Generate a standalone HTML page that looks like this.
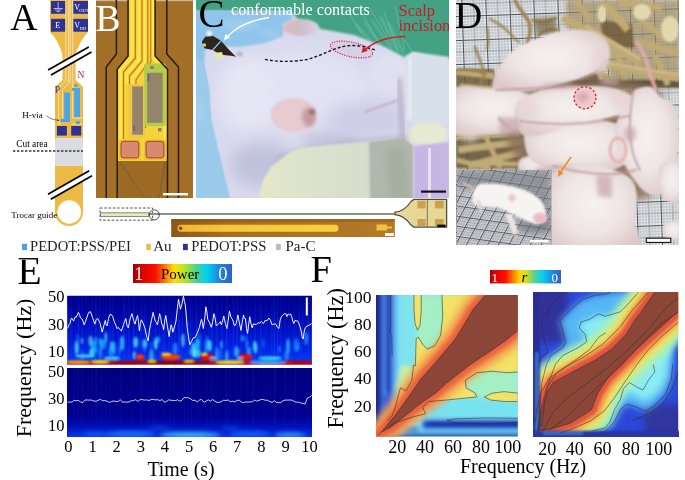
<!DOCTYPE html>
<html><head><meta charset="utf-8"><title>Figure</title>
<style>
html,body{margin:0;padding:0;background:#fff;}
body{width:685px;height:480px;overflow:hidden;position:relative;}
svg{position:absolute;left:0;top:0;}
text{font-family:"Liberation Serif","Times New Roman",serif;}
</style></head>
<body>
<svg width="685" height="480" viewBox="0 0 685 480">
<defs>
  <filter id="b1" x="-20%" y="-20%" width="140%" height="140%"><feGaussianBlur stdDeviation="1"/></filter>
  <filter id="b2" x="-30%" y="-30%" width="160%" height="160%"><feGaussianBlur stdDeviation="2"/></filter>
  <filter id="b3" x="-30%" y="-30%" width="160%" height="160%"><feGaussianBlur stdDeviation="3.5"/></filter>
  <filter id="b5" x="-40%" y="-40%" width="180%" height="180%"><feGaussianBlur stdDeviation="5"/></filter>
  <filter id="b8" x="-50%" y="-50%" width="200%" height="200%"><feGaussianBlur stdDeviation="8"/></filter>
  <clipPath id="clipB"><rect x="96" y="0" width="97" height="198"/></clipPath>
  <clipPath id="clipC"><rect x="196" y="0" width="253" height="198"/></clipPath>
  <clipPath id="clipD"><rect x="456" y="0" width="223" height="245"/></clipPath>
  <clipPath id="clipDi"><rect x="457" y="170" width="94" height="75"/></clipPath>
  <clipPath id="clipE1"><rect x="67.2" y="295.7" width="244.7" height="68.9"/></clipPath>
  <clipPath id="clipE2"><rect x="67" y="368" width="245" height="69"/></clipPath>
  <clipPath id="clipF1"><rect x="376" y="294.9" width="141.8" height="141.7"/></clipPath>
  <clipPath id="clipF2"><rect x="533" y="292.1" width="145.2" height="144.7"/></clipPath>
  <pattern id="mesh" width="24" height="24" patternUnits="userSpaceOnUse" patternTransform="rotate(-2) translate(5,8)">
    <rect width="24" height="24" fill="#f0f2f4"/>
    <path d="M0,3 H24 M0,6 H24 M0,9 H24 M0,15 H24 M0,18 H24 M0,21 H24 M3,0 V24 M6,0 V24 M9,0 V24 M15,0 V24 M18,0 V24 M21,0 V24" stroke="#a4aab2" stroke-width="0.75"/>
    <path d="M0,12 H24 M12,0 V24" stroke="#7c848c" stroke-width="0.9"/>
    <path d="M0,0.5 H24 M0.5,0 V24" stroke="#4a525a" stroke-width="1.1"/>
  </pattern>
  <radialGradient id="mg" cx="0.5" cy="0.45" r="0.6">
    <stop offset="0" stop-color="#f6f1f0"/><stop offset="0.55" stop-color="#eee5e4"/><stop offset="1" stop-color="#dcc9c9"/>
  </radialGradient>
  <pattern id="meshi" width="10" height="10" patternUnits="userSpaceOnUse" patternTransform="rotate(8) skewX(-20)">
    <rect width="10" height="10" fill="#d4d6da"/>
    <path d="M0,2.5 H10 M0,5 H10 M0,7.5 H10 M2.5,0 V10 M5,0 V10 M7.5,0 V10" stroke="#8e9298" stroke-width="0.5"/>
    <path d="M0,0.5 H10 M0.5,0 V10" stroke="#50545a" stroke-width="0.9"/>
  </pattern>
  <linearGradient id="gE1" x1="0" y1="0" x2="0" y2="1">
    <stop offset="0" stop-color="#00008c"/><stop offset="0.3" stop-color="#0006ac"/><stop offset="0.55" stop-color="#0012c8"/><stop offset="0.75" stop-color="#0020de"/><stop offset="0.9" stop-color="#0430f0"/><stop offset="1" stop-color="#0840f8"/>
  </linearGradient>
  <linearGradient id="gE2" x1="0" y1="0" x2="0" y2="1">
    <stop offset="0" stop-color="#00007e"/><stop offset="0.7" stop-color="#000090"/><stop offset="0.85" stop-color="#0010b8"/><stop offset="1" stop-color="#0838f0"/>
  </linearGradient>
  <linearGradient id="cbE" x1="0" y1="0" x2="1" y2="0">
    <stop offset="0" stop-color="#a00000"/><stop offset="0.06" stop-color="#d00000"/><stop offset="0.23" stop-color="#ff1000"/><stop offset="0.33" stop-color="#ff8000"/><stop offset="0.42" stop-color="#ffe000"/><stop offset="0.54" stop-color="#a8e030"/><stop offset="0.65" stop-color="#40d0a0"/><stop offset="0.75" stop-color="#00d0f0"/><stop offset="0.86" stop-color="#2088e0"/><stop offset="1" stop-color="#3060c0"/>
  </linearGradient>
  <linearGradient id="cbF" x1="0" y1="0" x2="1" y2="0">
    <stop offset="0" stop-color="#b00000"/><stop offset="0.08" stop-color="#e00000"/><stop offset="0.22" stop-color="#ff1000"/><stop offset="0.33" stop-color="#ff8000"/><stop offset="0.42" stop-color="#ffd800"/><stop offset="0.52" stop-color="#c8e020"/><stop offset="0.62" stop-color="#60d090"/><stop offset="0.74" stop-color="#00d0f0"/><stop offset="0.86" stop-color="#2090e0"/><stop offset="1" stop-color="#3060c0"/>
  </linearGradient>
  <linearGradient id="gEfade" x1="0" y1="0" x2="0" y2="1"><stop offset="0" stop-color="#000090" stop-opacity="0.75"/><stop offset="1" stop-color="#000090" stop-opacity="0"/></linearGradient>
  <linearGradient id="gstrip" x1="0" y1="0" x2="1" y2="0"><stop offset="0" stop-color="#8a5818"/><stop offset="0.25" stop-color="#a66e22"/><stop offset="1" stop-color="#b47a26"/></linearGradient>
  <linearGradient id="gbar" x1="0" y1="0" x2="1" y2="0"><stop offset="0" stop-color="#f0b432"/><stop offset="0.3" stop-color="#f6c83a"/><stop offset="1" stop-color="#f8d040"/></linearGradient>
  <linearGradient id="ggauze" x1="0" y1="0" x2="1" y2="0"><stop offset="0" stop-color="#e4e8c8"/><stop offset="0.35" stop-color="#dce2cc"/><stop offset="1" stop-color="#d0dad0"/></linearGradient>
  <linearGradient id="gear" x1="0" y1="0" x2="1" y2="0"><stop offset="0" stop-color="#d8c0c0"/><stop offset="0.45" stop-color="#d0bcc4"/><stop offset="1" stop-color="#d6d2e4"/></linearGradient>
</defs>

<!-- ================= PANEL A ================= -->
<g id="panelA">
  <text x="10.2" y="29.7" font-size="37.5">A</text>
  <!-- chip body -->
  <path d="M50,0 H88 V32 C84,36 80,42 77,50 C76,53 75.6,55 75.6,58 V80 L83,86.7 V212 A14,14 0 0 1 55,212 V86.7 L62.5,80 V58 C62.5,55 62,53 61,50 C58,42 54,36 50,32 Z" fill="#eeba46"/>
  <!-- cut area -->
  <rect x="55" y="138" width="28" height="28" fill="#dcdde0"/>
  <!-- trocar hole -->
  <circle cx="69.3" cy="212" r="11.8" fill="#fff"/>
  <!-- pads -->
  <rect x="51" y="1" width="14.4" height="12.8" fill="#2e3292"/>
  <rect x="73.2" y="1" width="14.8" height="12.8" fill="#2e3292"/>
  <rect x="51" y="18.8" width="14.4" height="12.9" fill="#2e3292"/>
  <rect x="73.2" y="18.8" width="14.8" height="12.9" fill="#2e3292"/>
  <!-- ground symbol -->
  <g stroke="#e8e8f4" stroke-width="0.7" fill="none">
    <line x1="58.2" y1="2" x2="58.2" y2="8.5"/>
    <line x1="53.5" y1="8.5" x2="62.9" y2="8.5"/>
    <line x1="55" y1="10" x2="61.4" y2="10"/>
    <line x1="56.6" y1="11.5" x2="59.8" y2="11.5"/>
  </g>
  <text x="74.3" y="9.8" font-size="8" fill="#fff">V</text>
  <text x="79.2" y="11.6" font-size="4.6" fill="#fff">OUT</text>
  <text x="55.3" y="28.3" font-size="8" fill="#fff">E</text>
  <text x="74.3" y="27.6" font-size="8" fill="#fff">V</text>
  <text x="79.6" y="29.6" font-size="4.6" fill="#fff">DD</text>
  <!-- traces -->
  <g stroke="#f3e2c0" stroke-width="0.9" fill="none">
    <path d="M65.8,0 V81 L58.75,87.5 V124 H61"/>
    <path d="M68.6,0 V83 L62.5,90 V119"/>
    <path d="M70.2,0 V84"/>
    <path d="M72.7,0 V118 M72.7,118 H82"/>
    <path d="M71.5,124 H82"/>
  </g>
  <!-- PEDOT:PSS/PEI strips -->
  <g fill="#4aa5e6">
    <rect x="64.2" y="92.5" width="5.8" height="29.5"/>
    <rect x="60.6" y="118.8" width="9.4" height="3.2"/>
    <rect x="74.2" y="88" width="5.8" height="29"/>
    <rect x="72" y="88" width="8" height="2.8"/>
    <rect x="74.6" y="84" width="2.9" height="2.7"/>
    <rect x="76" y="121" width="3.7" height="3"/>
  </g>
  <rect x="56.9" y="126" width="10" height="9.6" fill="#2e3292"/>
  <rect x="71.2" y="126" width="10" height="9.6" fill="#2e3292"/>
  <text x="77.6" y="78.2" font-size="9.5" fill="#c0272d">N</text>
  <text x="54.8" y="92.6" font-size="9.5" fill="#2e3292">P</text>
  <!-- break marks -->
  <polygon points="48.1,70 88.75,46.9 91.5,51.9 51,75" fill="#fff"/>
  <g stroke="#000" stroke-width="1.7" stroke-linecap="butt">
    <line x1="48.1" y1="70" x2="88.75" y2="46.9"/>
    <line x1="51" y1="75" x2="91.5" y2="51.9"/>
  </g>
  <polygon points="48,194.2 89.2,170.8 92,175.8 50.8,199.2" fill="#fff"/>
  <g stroke="#000" stroke-width="1.7">
    <line x1="48" y1="194.2" x2="89.2" y2="170.8"/>
    <line x1="50.8" y1="199.2" x2="92" y2="175.8"/>
  </g>
  <text x="22.2" y="117.6" font-size="9">H-via</text>
  <path d="M46.5,115.5 Q50,119.5 58,120.2" stroke="#222" stroke-width="0.6" fill="none"/>
  <circle cx="58.3" cy="120.2" r="0.8" fill="#222"/>
  <text x="16.2" y="146.8" font-size="9.4">Cut area</text>
  <line x1="13" y1="151" x2="83" y2="151" stroke="#333" stroke-width="1.3" stroke-dasharray="2.4,1.6"/>
  <text x="11.3" y="218" font-size="9">Trocar guide</text>
</g>

<!-- ================= PANEL B ================= -->
<g id="panelB" clip-path="url(#clipB)">
  <rect x="96" y="0" width="97" height="198" fill="#a3702a"/>
  <rect x="96" y="0" width="97" height="1.2" fill="#c8b89a"/>
  <!-- probe body -->
  <path d="M128.1,0 V56 L117.2,69.2 V161 H167.5 V69.2 L155.1,56 V0 Z" fill="#f4d43c"/>
  <!-- darker substrate below probe -->
  <rect x="117.2" y="161" width="50.3" height="37" fill="#9c6a22"/>
  <!-- traces separators -->
  <g fill="none" stroke="#c4761a" stroke-width="1.2">
    <path d="M135.4,0 V58 L123.5,72 V139"/>
    <path d="M142,0 V61 L129.5,76 V86"/>
    <path d="M147.8,0 V63 L136,80 V86"/>
    <path d="M150.8,0 V62 L145.5,69 V128"/>
  </g>
  <g fill="none" stroke="#fae654" stroke-width="2.6">
    <path d="M131.9,0 V56.5 L120.6,70 V158"/>
    <path d="M138.8,0 V59.5 L126.6,74 V84"/>
    <path d="M144.9,0 V62 L132.5,78 V84"/>
    <path d="M153,0 V58 L165,70 V158"/>
  </g>
  <!-- pale inner area -->
  <rect x="128" y="84" width="17" height="54" fill="#f0c848"/>
  <!-- gray sites -->
  <rect x="132.2" y="86.4" width="10.8" height="48.3" fill="#95846c"/>
  <rect x="144.2" y="63.4" width="21.6" height="62.6" rx="1.5" fill="#b5cc48"/>
  <rect x="147.2" y="72.8" width="15.4" height="50" fill="#95846c"/>
  <rect x="150" y="66" width="4" height="3" fill="#9a7c78"/>
  <rect x="147.7" y="74" width="1.6" height="7" fill="#7850a0"/>
  <rect x="133.5" y="125" width="1.4" height="6" fill="#7850a0"/>
  <rect x="158" y="128" width="3.5" height="3.5" fill="#9a7c60"/>
  <!-- pads -->
  <rect x="118.7" y="139.6" width="22.3" height="20.7" rx="2" fill="#f0c030"/>
  <rect x="144" y="139.6" width="22" height="20.7" rx="2" fill="#f0c030"/>
  <rect x="121" y="141.3" width="17.8" height="16.6" rx="2.5" fill="#d88a70" stroke="#9a3e26" stroke-width="0.9"/>
  <rect x="146.1" y="141.3" width="17.8" height="16.6" rx="2.5" fill="#d88a70" stroke="#9a3e26" stroke-width="0.9"/>
  <!-- outline lines -->
  <g fill="none" stroke="#2c1a06" stroke-width="1.5">
    <path d="M116.4,0 V54 L106.2,67 V198"/>
    <path d="M128.1,0 V56 L117.2,69.2 V198"/>
    <path d="M155.1,0 V56 L167.5,69.2 V198"/>
    <path d="M166.8,0 V54 L178.5,67 V198"/>
  </g>
  <!-- leader lines -->
  <g stroke="#555" stroke-width="0.6">
    <line x1="120" y1="162" x2="153" y2="210"/>
    <line x1="165" y1="162" x2="157" y2="210"/>
  </g>
  <rect x="163" y="193" width="25" height="2.4" fill="#fff"/>
  <text x="95.6" y="31" font-size="37.5" fill="#fff">B</text>
</g>


<!-- ================= PANEL C ================= -->
<g id="panelC" clip-path="url(#clipC)">
  <rect x="196" y="0" width="253" height="198" fill="#d9d9ee"/>
  <!-- mouse body shading -->
  <ellipse cx="300" cy="90" rx="70" ry="40" fill="#e2e2f4" filter="url(#b8)"/>
  <ellipse cx="262" cy="165" rx="32" ry="22" fill="#c0c2dc" filter="url(#b8)"/>
  <ellipse cx="365" cy="120" rx="40" ry="18" fill="#cdcde6" filter="url(#b8)"/>
  <ellipse cx="390" cy="75" rx="22" ry="22" fill="#e0e0f2" filter="url(#b5)"/>
  <ellipse cx="330" cy="140" rx="30" ry="8" fill="#c6c6e0" filter="url(#b5)"/>
  <ellipse cx="245" cy="95" rx="28" ry="38" fill="#e8e8f6" opacity="0.8" filter="url(#b8)"/>
  <path d="M275,160 C290,150 320,145 350,142 C375,140 395,137 410,136" fill="none" stroke="#a8a0b8" stroke-width="3" opacity="0.6" filter="url(#b2)"/>
  <!-- green background top -->
  <path d="M190,-5 H455 V60 L430,57 L413,52 L406,58 L383,46 L354,35 L321,29 L298,19 L290,11 L196,11 Z" fill="#43a283" filter="url(#b1)"/>
  <g stroke="#a0dccc" stroke-width="1.2" opacity="0.55" fill="none" filter="url(#b1)">
    <path d="M372,20 L392,50"/><path d="M380,16 L398,52"/><path d="M388,22 L404,54"/><path d="M364,22 L380,44"/><path d="M356,24 L370,40"/>
  </g>
  <g stroke="#82ccb4" stroke-width="0.8" opacity="0.6" fill="none">
    <path d="M360,10 L380,44"/><path d="M370,8 L392,46"/><path d="M384,12 L398,50"/><path d="M395,6 L405,50"/><path d="M350,14 L364,38"/><path d="M405,40 L412,52"/>
  </g>
  <!-- drape light blue -->
  <path d="M190,11 L290,11 L293,19 L283,24 L283,36 L265,43 L240,47 L215,46 L205,50 L204,65 L209,90 L211,120 L218,150 L230,200 L190,200 Z" fill="#8fc5ec" filter="url(#b1)"/>
  <path d="M196,60 L204,60 L209,90 L211,120 L218,150 L230,200 L196,200 Z" fill="#9ccaea" opacity="0.9"/>
  <g fill="#b4daf2" opacity="0.35" filter="url(#b2)">
    <ellipse cx="240" cy="25" rx="20" ry="6"/><ellipse cx="270" cy="34" rx="10" ry="4"/><ellipse cx="200" cy="110" rx="4" ry="14"/>
  </g>
  <!-- upper ear -->
  <ellipse cx="301" cy="27.5" rx="18" ry="8.5" fill="url(#gear)" filter="url(#b1)"/>
  <!-- gauze -->
  <path d="M258,200 L263,180 L271,167 L290,152 L300,148 L340,144 L370,141.7 L404,137 L413,146 L413,200 Z" fill="url(#ggauze)" filter="url(#b1)"/>
  <path d="M369,142 L404,137 L413,146 L413,200 L370,200 Z" fill="#b0b8ae" filter="url(#b1)"/>
  <path d="M385,150 L405,145 L410,200 L390,200 Z" fill="#a0a898" opacity="0.6" filter="url(#b3)"/>
  <path d="M399,78 C400,95 401,115 403,140" stroke="#b6a8bc" stroke-width="6" fill="none" opacity="0.7" filter="url(#b2)"/>
  <path d="M365,112 C375,108 388,104 398,100" stroke="#b8a0b8" stroke-width="2" fill="none" opacity="0.7" filter="url(#b1)"/>
  <!-- tube -->
  <path d="M405,56 L413.5,52 L449,57 L449,124 L412,124 L406,120 Z" fill="#d8e0ec" filter="url(#b1)"/>
  <rect x="408" y="57" width="4" height="62" fill="#eef2f6" opacity="0.6" filter="url(#b1)"/>
  <ellipse cx="428" cy="134" rx="20" ry="12" fill="#e6ead0" filter="url(#b2)"/>
  <path d="M414,146 L449,142 L449,200 L414,200 Z" fill="#c6b6e4" filter="url(#b1)"/>
  <rect x="428" y="148" width="3" height="50" fill="#ece6f6" opacity="0.9"/>
  <!-- ear -->
  <ellipse cx="293.4" cy="115" rx="23" ry="17" fill="#e6ccd0" filter="url(#b1)"/>
  <ellipse cx="309" cy="117" rx="7" ry="10" fill="#c29aa2" filter="url(#b2)"/>
  <ellipse cx="312" cy="112" rx="3" ry="3" fill="#a07880" filter="url(#b1)"/>
  <!-- contact -->
  <path d="M201.8,41.7 L205.2,36.7 L212.7,35.8 L221,40.8 L228.5,49.2 L236,56.7 L231,55.8 L223.5,55 L216.8,52.5 L212.7,50 L204.3,48.3 Z" fill="#2c261c"/>
  <ellipse cx="209.3" cy="33.3" rx="2.8" ry="2.6" fill="#f4f4f0" filter="url(#b1)"/>
  <path d="M214.3,53 L222,52 L223.5,58.5 L215.5,59.2 Z" fill="#e6e4b0"/>
  <ellipse cx="204.4" cy="45" rx="1.8" ry="1.8" fill="#d8c878"/>
  <line x1="221" y1="40.8" x2="212.7" y2="50" stroke="#9ec4e4" stroke-width="1.2"/>
  <ellipse cx="239.5" cy="54" rx="3.5" ry="2.5" fill="#b8b8c4" filter="url(#b1)"/>
  <!-- incision -->
  <ellipse cx="351.5" cy="49.5" rx="21.5" ry="7.3" transform="rotate(12 351.5 49.5)" fill="#d4cce4" fill-opacity="0.8" stroke="#e0202a" stroke-width="1.1" stroke-dasharray="1.2,1.2"/>
  <!-- dashed line -->
  <path d="M265,59.4 C278,62 292,62 307,59.5 C318,57 330,50 341,47 C350,44.5 362,45 375,50" fill="none" stroke="#1a1a1a" stroke-width="1.4" stroke-dasharray="3,2"/>
  <!-- red arrow -->
  <path d="M405.5,36.5 C392,36.5 376,40 364,50.5" fill="none" stroke="#d0202a" stroke-width="1.4"/>
  <path d="M361.5,53 L363,46.5 L368,50.5 Z" fill="#d0202a"/>
  <!-- white arrow -->
  <path d="M269,17.5 C252,20 236,27 226.5,37.5" fill="none" stroke="#fff" stroke-width="1.3"/>
  <path d="M224,40.5 L225.3,33.8 L230,37.5 Z" fill="#fff"/>
  <text x="231" y="15.3" font-size="16.2" fill="#fff">conformable contacts</text>
  <text x="398.6" y="16.3" font-size="16.4" fill="#cc1a2c">Scalp</text>
  <text x="398.4" y="30.6" font-size="16.4" fill="#cc1a2c">incision</text>
  <text x="198.6" y="26.7" font-size="39" fill="#000">C</text>
  <rect x="421" y="190.5" width="25" height="2.2" fill="#111"/>
</g>


<!-- ================= PANEL D ================= -->
<g id="panelD" clip-path="url(#clipD)">
  <rect x="456" y="0" width="223" height="245" fill="url(#mesh)"/>
  <!-- shreds base -->
  <path d="M566,0 H680 V82 L640,84 L612,80 L606,60 L596,44 L578,32 L566,28 Z" fill="#a08a5a" opacity="0.65" filter="url(#b2)"/>
  <path d="M456,128 L531,128 L531,170 L456,170 Z" fill="#9c8452" opacity="0.55" filter="url(#b2)"/>
  <!-- shreds -->
  <g filter="url(#b1)">
    <path d="M600,20 L632,24 L634,48 L604,46 Z" fill="#6a5636" opacity="0.8"/>
    <path d="M566,60 L600,66 L598,84 L566,82 Z" fill="#5e4c30" opacity="0.8"/>
    <path d="M456,69 L494,69 L496,91 L456,91 Z" fill="#6a5a3a" opacity="0.85"/>
    <path d="M546,80 L568,80 L568,91 L546,91 Z" fill="#4a3a26"/>
    <path d="M566,80 L680,80 L680,88 L566,88 Z" fill="#5a4a30" opacity="0.9"/>
    <path d="M596,110 L641,112 L641,130 L600,130 Z" fill="#5a4434"/>
    <path d="M456,140 L531,136 L531,168 L456,168 Z" fill="#5a4a30" opacity="0.7"/>
  </g>
  <g fill="none" stroke="#c0aa74" stroke-linecap="butt" filter="url(#b1)">
    <path d="M562,18 L600,36" stroke-width="7"/>
    <path d="M585,28 C600,38 620,50 640,62" stroke-width="9"/>
    <path d="M604,2 L628,30" stroke-width="8"/>
    <path d="M618,2 L662,8" stroke-width="7"/>
    <path d="M640,42 L680,54" stroke-width="7"/>
    <path d="M600,64 L680,78" stroke-width="8"/>
    <path d="M570,50 L610,80" stroke-width="7"/>
    <path d="M655,55 L668,85" stroke-width="6"/>
    <path d="M615,45 L625,80" stroke-width="6"/>
    <path d="M575,0 L590,20" stroke-width="6"/>
    <path d="M640,20 L668,40" stroke-width="6"/>
    <path d="M590,48 L612,56" stroke-width="5"/>
    <path d="M456,134 L531,131" stroke-width="8"/>
    <path d="M458,150 L526,141" stroke-width="7"/>
    <path d="M468,166 L522,152" stroke-width="7"/>
    <path d="M482,128 L500,168" stroke-width="5"/>
    <path d="M456,160 L490,168" stroke-width="5"/>
    <path d="M456,72 L494,76" stroke-width="6"/>
    <path d="M460,86 L496,89" stroke-width="5"/>
    <path d="M558,228 L596,236" stroke-width="7"/>
    <path d="M560,242 L596,226" stroke-width="6"/>
    <path d="M472,163 L522,164" stroke-width="5"/>
  </g>
  <g fill="none" stroke="#d8c898" stroke-width="2" opacity="0.7" filter="url(#b1)">
    <path d="M586,26 C600,35 620,47 640,59"/>
    <path d="M600,62 L680,75"/>
    <path d="M456,132 L531,129"/>
  </g>
  <g fill="#e2d8b0" filter="url(#b1)">
    <ellipse cx="642" cy="12" rx="9" ry="8"/>
    <ellipse cx="670" cy="29" rx="9" ry="13"/>
    <ellipse cx="602" cy="14" rx="4.5" ry="9"/>
  </g>
  <!-- thin shreds top-left -->
  <g fill="none" stroke="#97804e" stroke-linecap="round" filter="url(#b1)">
    <path d="M515,0 C518,8 524,14 528,20 C532,28 530,36 527,44" stroke-width="3.5"/>
    <path d="M490,19 C500,24 508,30 514,38 L519,42" stroke-width="2.2"/>
    <path d="M475,47 C478,55 480,60 482,66 C484,72 486,76 480,84" stroke-width="2.5"/>
    <path d="M487,28 C489,36 489,42 487,49" stroke-width="2.2"/>
    <path d="M457,70 C468,69 478,70 486,74" stroke-width="2.5"/>
    <path d="M533,20 C540,24 548,22 556,18" stroke-width="3"/>
    <path d="M538,36 C544,30 550,28 558,30" stroke-width="2.5"/>
  </g>
  <path d="M534,18 L556,17 L557,34 L536,35 Z" fill="#7c6640" opacity="0.7" filter="url(#b2)"/>
  <path d="M496,88 L560,84 L610,78 L640,84 L662,92 L664,190 L640,200 L552,200 L522,170 L505,136 L496,110 Z" fill="#8a7058" opacity="0.85" filter="url(#b3)"/>
  <!-- mice -->
  <g filter="url(#b1)">
    <path d="M494.5,89.7 C489.4,86.5 494.0,78.2 497.0,71.8 C500.0,65.4 505.6,56.8 512.4,51.3 C519.2,45.8 529.5,41.9 538.0,38.5 C546.5,35.1 555.2,32.1 563.7,30.8 C572.2,29.5 582.5,29.5 589.3,30.8 C596.1,32.1 601.3,35.1 604.7,38.5 C608.1,41.9 609.8,46.6 609.8,51.3 C609.8,56.0 609.0,62.4 604.7,66.7 C600.4,71.0 591.9,73.9 584.2,76.9 C576.5,79.9 568.0,82.2 558.6,84.6 C549.2,87.0 538.5,90.4 527.8,91.3 C517.1,92.2 499.6,93.0 494.5,89.7 Z" fill="url(#mg)"/>
    <path d="M452.0,89.7 C457.8,82.6 475.9,87.9 486.8,88.2 C497.7,88.5 509.4,89.8 517.5,91.3 C525.6,92.8 531.6,94.7 535.5,97.4 C539.4,100.1 541.0,103.4 540.6,107.7 C540.2,112.0 537.6,119.2 532.9,123.0 C528.2,126.8 520.1,128.9 512.4,130.8 C504.7,132.7 496.9,134.4 486.8,134.4 C476.7,134.4 457.8,138.4 452.0,131.0 C446.2,123.5 446.2,96.8 452.0,89.7 Z" fill="url(#mg)"/>
    <path d="M522.0,158.0 C527.0,155.3 546.3,153.7 552.0,156.0 C557.7,158.3 561.0,169.3 556.0,172.0 C551.0,174.7 527.7,174.3 522.0,172.0 C516.3,169.7 517.0,160.7 522.0,158.0 Z" fill="url(#mg)"/>
    <path d="M527.8,128.2 C533.4,123.9 548.4,122.0 558.6,120.5 C568.9,119.0 579.9,118.6 589.3,119.0 C598.7,119.4 608.2,120.6 615.0,123.0 C621.8,125.4 627.3,129.0 630.3,133.3 C633.3,137.6 633.8,143.6 632.9,148.7 C632.0,153.8 629.9,160.2 625.2,164.1 C620.5,167.9 612.4,170.5 604.7,171.8 C597.0,173.1 587.5,172.2 579.0,171.8 C570.5,171.4 561.1,170.9 553.4,169.2 C545.7,167.5 537.6,165.3 532.9,161.5 C528.2,157.7 526.1,151.8 525.2,146.2 C524.4,140.6 522.2,132.5 527.8,128.2 Z" fill="url(#mg)"/>
    <path d="M517.5,102.6 C522.2,97.0 533.0,92.4 543.2,89.7 C553.5,87.0 567.9,86.6 579.0,86.2 C590.1,85.8 601.2,85.8 609.8,87.2 C618.3,88.7 626.2,92.3 630.3,94.9 C634.4,97.5 635.2,99.6 634.4,102.6 C633.5,105.6 630.2,110.1 625.2,112.8 C620.2,115.5 613.2,116.9 604.7,119.0 C596.2,121.1 584.1,123.0 573.9,125.6 C563.6,128.2 551.7,132.9 543.2,134.4 C534.7,135.9 527.4,136.3 522.7,134.4 C518.0,132.5 515.9,128.3 515.0,123.0 C514.1,117.7 512.8,108.1 517.5,102.6 Z" fill="url(#mg)"/>
    <path d="M635.5,89.7 C638.9,88.0 646.6,85.9 650.9,87.2 C655.2,88.5 657.7,94.8 661.1,97.4 C664.5,100.0 668.6,99.2 671.4,102.6 C674.2,106.0 676.9,109.5 678.0,118.0 C679.1,126.5 679.1,143.6 678.0,153.8 C676.9,164.1 674.2,172.7 671.4,179.5 C668.6,186.3 665.4,192.8 661.1,194.9 C656.8,197.0 650.8,195.7 645.7,192.3 C640.6,188.9 634.6,180.8 630.3,174.4 C626.0,168.0 622.6,160.7 620.1,153.8 C617.6,147.0 615.0,140.1 615.0,133.3 C615.0,126.5 617.6,118.8 620.1,112.8 C622.6,106.8 627.7,101.2 630.3,97.4 C632.9,93.6 632.1,91.4 635.5,89.7 Z" fill="url(#mg)"/>
    <path d="M552.0,166.0 C558.0,162.3 574.3,162.5 584.0,163.0 C593.7,163.5 602.3,166.5 610.0,169.0 C617.7,171.5 625.5,173.7 630.0,178.0 C634.5,182.3 636.2,188.0 637.0,195.0 C637.8,202.0 635.5,210.8 635.0,220.0 C634.5,229.2 647.8,245.0 634.0,250.0 C620.2,255.0 566.3,255.8 552.0,250.0 C537.7,244.2 548.7,225.8 548.0,215.0 C547.3,204.2 547.3,193.2 548.0,185.0 C548.7,176.8 546.0,169.7 552.0,166.0 Z" fill="url(#mg)"/>
    <path d="M660.0,166.0 C663.0,160.3 678.3,158.3 682.0,164.0 C685.7,169.7 685.0,194.3 682.0,200.0 C679.0,205.7 667.7,203.7 664.0,198.0 C660.3,192.3 657.0,171.7 660.0,166.0 Z" fill="url(#mg)"/>
    <path d="M664.0,224.0 C666.7,221.3 679.0,219.5 682.0,222.0 C685.0,224.5 684.7,236.3 682.0,239.0 C679.3,241.7 669.0,240.5 666.0,238.0 C663.0,235.5 661.3,226.7 664.0,224.0 Z" fill="url(#mg)"/>
  </g>
  <!-- shadows between mice -->
  <g fill="none" stroke="#b89496" stroke-linecap="round" opacity="0.8" filter="url(#b1)">
    <path d="M496,90 C515,89 535,89 548,87" stroke-width="2.2"/>
    <path d="M520,121 C540,124 560,125 585,123 C600,121 615,118 630,116" stroke-width="2.2"/>
    <path d="M553,166 C570,170 590,175 612,174 C622,173 630,172 636,170" stroke-width="2"/>
    <path d="M633,92 C631,105 629,120 630,135 C631,150 634,160 640,170" stroke-width="2"/>
    <path d="M499,118 C505,125 510,130 518,134" stroke-width="2"/>
    <path d="M606,60 C600,70 592,76 580,80" stroke-width="1.6"/>
  </g>
  <!-- crevice shading -->
  <g fill="#c8a8ae" opacity="0.75" filter="url(#b2)">
    <path d="M499,117 L518,118 L520,134 L500,136 Z"/>
    <path d="M596,175 L612,176 L612,198 L598,196 Z"/>
    <ellipse cx="560" cy="86" rx="18" ry="3"/>
    <ellipse cx="630" cy="134" rx="6" ry="8"/>
    <ellipse cx="545" cy="170" rx="12" ry="3"/>
    <ellipse cx="610" cy="82" rx="10" ry="3"/>
  </g>
  <g fill="#e8d4d8" opacity="0.8" filter="url(#b3)">
    <ellipse cx="530" cy="110" rx="10" ry="8"/>
    <ellipse cx="620" cy="100" rx="10" ry="8"/>
    <ellipse cx="600" cy="60" rx="8" ry="12"/>
    <ellipse cx="470" cy="138" rx="8" ry="4"/>
  </g>
  <!-- curled tail -->
  <ellipse cx="618" cy="150" rx="8" ry="12" fill="none" stroke="#e4b4b4" stroke-width="3" filter="url(#b1)"/>
  <!-- tail -->
  <path d="M637,42 C641,48 645,56 647,63 C649,70 652,80 656,90" fill="none" stroke="#e2aaac" stroke-width="3.5" stroke-linecap="round" filter="url(#b1)"/>
  <!-- red dashed circle -->
  <circle cx="585" cy="97.8" r="11" fill="#ecccd0" stroke="#d8202a" stroke-width="1.3" stroke-dasharray="2.4,1.9"/>
  <ellipse cx="583" cy="97" rx="6" ry="5" fill="#dca8ac" filter="url(#b2)"/>
  <!-- orange arrow -->
  <path d="M571,157 L560,173" stroke="#f08a1c" stroke-width="1.4"/>
  <path d="M558,177 L558.4,169.8 L563.4,173 Z" fill="#f08a1c"/>
  <!-- inset -->
  <rect x="456.8" y="170.1" width="94.4" height="75.3" fill="#2a2a2c"/>
  <g clip-path="url(#clipDi)">
    <rect x="457" y="170" width="94" height="75" fill="url(#meshi)"/>
    <path d="M457,170 H551 V232 C535,215 515,200 490,192 C475,189 465,188 457,188 Z" fill="#767a80" opacity="0.6" filter="url(#b3)"/>
    <path d="M514,221 L549,220 L549,234 L520,232 Z" fill="#6c7074" opacity="0.7" filter="url(#b3)"/>
    <path d="M479.7,184 C490,183 500,184 509,185.7 C520,188 526,190 531,193 C538,197 543,202 544,206 C546,210 546,214 545.7,220.5 C542,223 538,224 534.7,224 C527,221 520,218 514.5,215 C508,212 504,209 500,207.7 C492,207 484,207 477.8,206 C474,204 472,202 472.3,200.4 C472,193 475,186 479.7,184 Z" fill="#f6f3f3" filter="url(#b1)"/>
    <path d="M505,214 L512,214 L518,232 L514,236 Z" fill="#f0e4e4" filter="url(#b1)"/>
    <path d="M476,200 L480,212 L483,212 L480,200 Z" fill="#e8d4d6" filter="url(#b1)"/>
    <ellipse cx="540" cy="218" rx="7" ry="5.5" fill="#e8c0c4" filter="url(#b1)"/>
    <ellipse cx="512" cy="198" rx="3.5" ry="4" fill="#eccaca" filter="url(#b1)"/>
    <path d="M463,183 L474,189" stroke="#e6c0c4" stroke-width="2.5" filter="url(#b1)"/>
    <rect x="530" y="240" width="18.5" height="2.3" fill="#fff"/>
  </g>
  <!-- scale bar -->
  <rect x="646.3" y="238.2" width="24.5" height="4.2" fill="#fff" stroke="#111" stroke-width="1.1"/>
  <text x="454.8" y="28.4" font-size="38" fill="#000">D</text>
</g>

<!-- ================= PANEL E ================= -->
<g id="panelE">
  <text x="17.4" y="284" font-size="39.5">E</text>
  <rect x="133" y="264" width="99" height="19" fill="url(#cbE)"/>
  <text x="134.3" y="280" font-size="18.5" fill="#fff">1</text>
  <text x="161" y="279" font-size="15">Power</text>
  <text x="218.3" y="280" font-size="18.5" fill="#fff">0</text>
  <g clip-path="url(#clipE1)">
    <rect x="67" y="295" width="245" height="70" fill="url(#gE1)"/>
    <rect x="67.0" y="296" width="1.5" height="68" fill="#2050ff" opacity="0.29"/>
    <rect x="70.3" y="296" width="2.2" height="68" fill="#2050ff" opacity="0.20"/>
    <rect x="74.7" y="296" width="2.1" height="68" fill="#0c34e0" opacity="0.17"/>
    <rect x="77.7" y="296" width="1.7" height="68" fill="#1040f0" opacity="0.39"/>
    <rect x="81.6" y="296" width="1.4" height="68" fill="#1848ff" opacity="0.27"/>
    <rect x="85.2" y="296" width="2.1" height="68" fill="#1040f0" opacity="0.16"/>
    <rect x="88.4" y="296" width="1.2" height="68" fill="#2050ff" opacity="0.15"/>
    <rect x="91.1" y="296" width="1.7" height="68" fill="#1848ff" opacity="0.20"/>
    <rect x="95.1" y="296" width="1.6" height="68" fill="#2050ff" opacity="0.32"/>
    <rect x="99.0" y="296" width="1.5" height="68" fill="#1040f0" opacity="0.29"/>
    <rect x="102.9" y="296" width="1.3" height="68" fill="#0c34e0" opacity="0.20"/>
    <rect x="104.9" y="296" width="1.7" height="68" fill="#1040f0" opacity="0.17"/>
    <rect x="109.4" y="296" width="1.4" height="68" fill="#1040f0" opacity="0.41"/>
    <rect x="111.9" y="296" width="2.3" height="68" fill="#2050ff" opacity="0.15"/>
    <rect x="117.4" y="296" width="1.4" height="68" fill="#1848ff" opacity="0.16"/>
    <rect x="121.4" y="296" width="1.2" height="68" fill="#0c34e0" opacity="0.16"/>
    <rect x="123.3" y="296" width="1.5" height="68" fill="#1848ff" opacity="0.40"/>
    <rect x="126.0" y="296" width="1.0" height="68" fill="#2050ff" opacity="0.15"/>
    <rect x="128.0" y="296" width="1.7" height="68" fill="#1848ff" opacity="0.27"/>
    <rect x="132.9" y="296" width="2.0" height="68" fill="#2050ff" opacity="0.26"/>
    <rect x="135.8" y="296" width="1.5" height="68" fill="#0c34e0" opacity="0.20"/>
    <rect x="140.1" y="296" width="2.4" height="68" fill="#1040f0" opacity="0.31"/>
    <rect x="143.6" y="296" width="1.4" height="68" fill="#1040f0" opacity="0.38"/>
    <rect x="145.8" y="296" width="1.0" height="68" fill="#1040f0" opacity="0.27"/>
    <rect x="149.4" y="296" width="1.3" height="68" fill="#1040f0" opacity="0.22"/>
    <rect x="151.5" y="296" width="1.1" height="68" fill="#1040f0" opacity="0.32"/>
    <rect x="154.8" y="296" width="1.4" height="68" fill="#2050ff" opacity="0.27"/>
    <rect x="159.0" y="296" width="1.0" height="68" fill="#1848ff" opacity="0.24"/>
    <rect x="161.4" y="296" width="1.2" height="68" fill="#1848ff" opacity="0.31"/>
    <rect x="163.6" y="296" width="1.8" height="68" fill="#2050ff" opacity="0.29"/>
    <rect x="168.3" y="296" width="1.8" height="68" fill="#1040f0" opacity="0.26"/>
    <rect x="170.9" y="296" width="1.6" height="68" fill="#2050ff" opacity="0.21"/>
    <rect x="173.8" y="296" width="2.1" height="68" fill="#0c34e0" opacity="0.31"/>
    <rect x="177.9" y="296" width="2.3" height="68" fill="#1848ff" opacity="0.41"/>
    <rect x="181.4" y="296" width="1.7" height="68" fill="#1040f0" opacity="0.38"/>
    <rect x="184.4" y="296" width="2.3" height="68" fill="#1040f0" opacity="0.20"/>
    <rect x="187.5" y="296" width="1.5" height="68" fill="#1040f0" opacity="0.21"/>
    <rect x="190.0" y="296" width="1.4" height="68" fill="#1848ff" opacity="0.30"/>
    <rect x="192.2" y="296" width="1.0" height="68" fill="#0c34e0" opacity="0.27"/>
    <rect x="195.5" y="296" width="1.9" height="68" fill="#1848ff" opacity="0.30"/>
    <rect x="199.6" y="296" width="2.3" height="68" fill="#0c34e0" opacity="0.27"/>
    <rect x="204.3" y="296" width="2.3" height="68" fill="#1040f0" opacity="0.15"/>
    <rect x="208.5" y="296" width="2.0" height="68" fill="#1040f0" opacity="0.23"/>
    <rect x="211.2" y="296" width="1.7" height="68" fill="#1848ff" opacity="0.34"/>
    <rect x="215.6" y="296" width="2.3" height="68" fill="#2050ff" opacity="0.24"/>
    <rect x="220.8" y="296" width="2.2" height="68" fill="#1040f0" opacity="0.26"/>
    <rect x="225.8" y="296" width="1.7" height="68" fill="#2050ff" opacity="0.32"/>
    <rect x="229.1" y="296" width="0.8" height="68" fill="#1040f0" opacity="0.16"/>
    <rect x="232.2" y="296" width="2.4" height="68" fill="#0c34e0" opacity="0.39"/>
    <rect x="236.2" y="296" width="2.0" height="68" fill="#2050ff" opacity="0.30"/>
    <rect x="240.0" y="296" width="1.7" height="68" fill="#1040f0" opacity="0.29"/>
    <rect x="243.0" y="296" width="0.9" height="68" fill="#1040f0" opacity="0.15"/>
    <rect x="245.9" y="296" width="1.8" height="68" fill="#0c34e0" opacity="0.40"/>
    <rect x="250.6" y="296" width="1.4" height="68" fill="#1848ff" opacity="0.18"/>
    <rect x="253.9" y="296" width="2.0" height="68" fill="#2050ff" opacity="0.24"/>
    <rect x="257.8" y="296" width="1.2" height="68" fill="#0c34e0" opacity="0.25"/>
    <rect x="260.1" y="296" width="1.5" height="68" fill="#1848ff" opacity="0.36"/>
    <rect x="264.5" y="296" width="1.4" height="68" fill="#0c34e0" opacity="0.30"/>
    <rect x="267.1" y="296" width="1.0" height="68" fill="#1040f0" opacity="0.24"/>
    <rect x="270.5" y="296" width="2.3" height="68" fill="#1848ff" opacity="0.22"/>
    <rect x="273.7" y="296" width="1.6" height="68" fill="#2050ff" opacity="0.40"/>
    <rect x="276.9" y="296" width="1.6" height="68" fill="#2050ff" opacity="0.33"/>
    <rect x="280.0" y="296" width="2.1" height="68" fill="#1040f0" opacity="0.22"/>
    <rect x="284.4" y="296" width="1.2" height="68" fill="#1040f0" opacity="0.24"/>
    <rect x="288.0" y="296" width="1.4" height="68" fill="#0c34e0" opacity="0.20"/>
    <rect x="290.6" y="296" width="1.0" height="68" fill="#1040f0" opacity="0.15"/>
    <rect x="293.4" y="296" width="1.8" height="68" fill="#0c34e0" opacity="0.32"/>
    <rect x="298.3" y="296" width="1.9" height="68" fill="#2050ff" opacity="0.20"/>
    <rect x="301.5" y="296" width="1.9" height="68" fill="#1040f0" opacity="0.35"/>
    <rect x="304.5" y="296" width="1.2" height="68" fill="#1848ff" opacity="0.24"/>
    <rect x="307.3" y="296" width="2.1" height="68" fill="#1040f0" opacity="0.39"/>
    <rect x="311.1" y="296" width="2.2" height="68" fill="#2050ff" opacity="0.25"/>
    <rect x="67" y="296" width="245" height="30" fill="url(#gEfade)"/>
    <g filter="url(#b1)">
    <ellipse cx="220.0" cy="354.4" rx="1.6" ry="5.8" fill="#1878ff" opacity="0.82"/>
    <ellipse cx="297.5" cy="346.3" rx="2.0" ry="4.0" fill="#20c8ff" opacity="0.59"/>
    <ellipse cx="286.7" cy="355.6" rx="2.6" ry="5.7" fill="#30a0ff" opacity="0.60"/>
    <ellipse cx="242.5" cy="338.3" rx="1.8" ry="3.2" fill="#30a0ff" opacity="0.72"/>
    <ellipse cx="254.7" cy="346.8" rx="1.0" ry="7.0" fill="#20c8ff" opacity="0.67"/>
    <ellipse cx="76.5" cy="347.6" rx="2.1" ry="7.6" fill="#60f0e0" opacity="0.56"/>
    <ellipse cx="193.5" cy="351.0" rx="2.3" ry="6.4" fill="#60f0e0" opacity="0.73"/>
    <ellipse cx="235.4" cy="351.6" rx="1.7" ry="5.8" fill="#1878ff" opacity="0.76"/>
    <ellipse cx="195.0" cy="353.2" rx="1.9" ry="4.6" fill="#60f0e0" opacity="0.88"/>
    <ellipse cx="279.4" cy="349.0" rx="1.5" ry="3.7" fill="#1878ff" opacity="0.71"/>
    <ellipse cx="207.2" cy="341.6" rx="1.9" ry="5.5" fill="#1878ff" opacity="0.65"/>
    <ellipse cx="198.8" cy="338.8" rx="2.5" ry="5.7" fill="#1878ff" opacity="0.55"/>
    <ellipse cx="90.7" cy="341.0" rx="2.5" ry="5.3" fill="#60f0e0" opacity="0.61"/>
    <ellipse cx="183.0" cy="340.3" rx="1.7" ry="7.1" fill="#60f0e0" opacity="0.71"/>
    <ellipse cx="94.4" cy="345.6" rx="1.0" ry="4.3" fill="#20c8ff" opacity="0.51"/>
    <ellipse cx="105.8" cy="338.2" rx="1.5" ry="6.6" fill="#40e0ff" opacity="0.75"/>
    <ellipse cx="93.5" cy="351.2" rx="1.2" ry="5.6" fill="#30a0ff" opacity="0.79"/>
    <ellipse cx="238.4" cy="353.8" rx="1.0" ry="6.2" fill="#1878ff" opacity="0.75"/>
    <ellipse cx="198.8" cy="353.5" rx="1.9" ry="4.1" fill="#40e0ff" opacity="0.84"/>
    <ellipse cx="216.6" cy="353.4" rx="1.4" ry="6.7" fill="#30a0ff" opacity="0.86"/>
    <ellipse cx="144.8" cy="343.7" rx="2.5" ry="4.1" fill="#40e0ff" opacity="0.86"/>
    <ellipse cx="100.5" cy="342.3" rx="2.2" ry="4.3" fill="#20c8ff" opacity="0.67"/>
    <ellipse cx="296.7" cy="347.8" rx="2.1" ry="4.0" fill="#20c8ff" opacity="0.54"/>
    <ellipse cx="206.5" cy="344.4" rx="2.3" ry="4.8" fill="#1878ff" opacity="0.75"/>
    <ellipse cx="151.5" cy="356.0" rx="2.3" ry="7.0" fill="#60f0e0" opacity="0.54"/>
    <ellipse cx="77.1" cy="347.9" rx="1.8" ry="5.8" fill="#40e0ff" opacity="0.58"/>
    <ellipse cx="95.9" cy="341.1" rx="1.3" ry="4.4" fill="#20c8ff" opacity="0.73"/>
    <ellipse cx="100.7" cy="350.3" rx="1.1" ry="3.5" fill="#60f0e0" opacity="0.69"/>
    <ellipse cx="193.2" cy="345.7" rx="2.0" ry="3.1" fill="#20c8ff" opacity="0.84"/>
    <ellipse cx="112.0" cy="346.2" rx="2.2" ry="5.0" fill="#40e0ff" opacity="0.74"/>
    <ellipse cx="91.0" cy="352.3" rx="1.5" ry="3.4" fill="#60f0e0" opacity="0.73"/>
    <ellipse cx="114.4" cy="348.5" rx="1.5" ry="6.8" fill="#30a0ff" opacity="0.86"/>
    <ellipse cx="248.9" cy="352.0" rx="2.3" ry="5.0" fill="#30a0ff" opacity="0.85"/>
    <ellipse cx="236.8" cy="351.8" rx="2.2" ry="5.0" fill="#40e0ff" opacity="0.53"/>
    <ellipse cx="151.0" cy="346.4" rx="1.0" ry="4.8" fill="#1878ff" opacity="0.52"/>
    <ellipse cx="134.3" cy="355.3" rx="1.5" ry="4.1" fill="#60f0e0" opacity="0.73"/>
    <ellipse cx="197.5" cy="345.0" rx="2.6" ry="6.2" fill="#20c8ff" opacity="0.80"/>
    <ellipse cx="306.2" cy="338.4" rx="2.0" ry="6.7" fill="#30a0ff" opacity="0.68"/>
    <ellipse cx="190.7" cy="351.7" rx="2.0" ry="3.1" fill="#30a0ff" opacity="0.60"/>
    <ellipse cx="288.1" cy="347.9" rx="1.8" ry="7.8" fill="#1878ff" opacity="0.84"/>
    <ellipse cx="92.2" cy="346.0" rx="2.0" ry="5.7" fill="#20c8ff" opacity="0.65"/>
    <ellipse cx="296.1" cy="344.9" rx="2.6" ry="7.3" fill="#1878ff" opacity="0.74"/>
    <ellipse cx="82.2" cy="355.0" rx="1.7" ry="5.6" fill="#1878ff" opacity="0.62"/>
    <ellipse cx="196.9" cy="346.7" rx="1.4" ry="7.6" fill="#30a0ff" opacity="0.51"/>
    <ellipse cx="255.7" cy="348.5" rx="2.0" ry="5.0" fill="#60f0e0" opacity="0.52"/>
    <ellipse cx="144.6" cy="345.2" rx="1.9" ry="6.6" fill="#30a0ff" opacity="0.53"/>
    <ellipse cx="288.0" cy="345.7" rx="1.8" ry="7.9" fill="#40e0ff" opacity="0.52"/>
    <ellipse cx="91.9" cy="352.6" rx="2.5" ry="3.7" fill="#40e0ff" opacity="0.74"/>
    <ellipse cx="96.0" cy="349.2" rx="1.7" ry="4.0" fill="#20c8ff" opacity="0.64"/>
    <ellipse cx="105.6" cy="344.5" rx="1.2" ry="5.1" fill="#1878ff" opacity="0.60"/>
    <ellipse cx="209.5" cy="345.6" rx="2.2" ry="5.7" fill="#40e0ff" opacity="0.88"/>
    <ellipse cx="246.4" cy="342.3" rx="1.2" ry="7.5" fill="#1878ff" opacity="0.75"/>
    <ellipse cx="155.3" cy="342.9" rx="2.1" ry="5.8" fill="#1878ff" opacity="0.58"/>
    <ellipse cx="135.7" cy="342.3" rx="2.5" ry="5.5" fill="#40e0ff" opacity="0.85"/>
    <ellipse cx="77.6" cy="339.1" rx="1.4" ry="5.1" fill="#1878ff" opacity="0.52"/>
    <ellipse cx="122.1" cy="343.0" rx="2.2" ry="7.6" fill="#40e0ff" opacity="0.72"/>
    <ellipse cx="221.4" cy="344.7" rx="1.8" ry="4.1" fill="#30a0ff" opacity="0.70"/>
    <ellipse cx="100.4" cy="353.7" rx="2.3" ry="5.2" fill="#1878ff" opacity="0.84"/>
    <ellipse cx="254.9" cy="346.0" rx="2.2" ry="5.0" fill="#40e0ff" opacity="0.65"/>
    <ellipse cx="226.8" cy="355.8" rx="1.5" ry="5.7" fill="#40e0ff" opacity="0.67"/>
    <ellipse cx="157.7" cy="339.7" rx="2.4" ry="3.4" fill="#20c8ff" opacity="0.67"/>
    <ellipse cx="206.0" cy="352.7" rx="1.7" ry="7.1" fill="#20c8ff" opacity="0.53"/>
    <ellipse cx="119.8" cy="349.9" rx="1.1" ry="4.5" fill="#30a0ff" opacity="0.61"/>
    <ellipse cx="102.7" cy="344.4" rx="2.2" ry="4.8" fill="#20c8ff" opacity="0.63"/>
    <ellipse cx="175.2" cy="348.7" rx="2.4" ry="6.4" fill="#30a0ff" opacity="0.68"/>
    <ellipse cx="263.1" cy="343.5" rx="1.5" ry="5.0" fill="#1878ff" opacity="0.60"/>
    <ellipse cx="155.9" cy="344.6" rx="1.6" ry="5.0" fill="#60f0e0" opacity="0.82"/>
    <ellipse cx="247.5" cy="344.6" rx="1.6" ry="3.8" fill="#1878ff" opacity="0.73"/>
    <ellipse cx="110.9" cy="351.7" rx="2.4" ry="4.4" fill="#20c8ff" opacity="0.59"/>
    <ellipse cx="82.0" cy="340.9" rx="1.5" ry="3.1" fill="#60f0e0" opacity="0.53"/>
    </g>
    <g filter="url(#b1)">
      <rect x="60" y="360.8" width="260" height="6" fill="#d01000"/>
      <ellipse cx="78" cy="362" rx="12" ry="1.8" fill="#ffa000"/>
      <ellipse cx="100" cy="361.5" rx="9" ry="1.6" fill="#ffd800"/>
      <ellipse cx="130" cy="362.5" rx="20" ry="1.6" fill="#a00000"/>
      <ellipse cx="170" cy="362.5" rx="20" ry="1.8" fill="#900000"/>
      <ellipse cx="140" cy="357" rx="4.5" ry="2.8" fill="#ff3000"/>
      <ellipse cx="171" cy="357" rx="10" ry="2.8" fill="#ff4000"/>
      <ellipse cx="166" cy="354" rx="5" ry="1.3" fill="#ffe020"/>
      <ellipse cx="208" cy="357" rx="8" ry="3" fill="#e81000"/>
      <ellipse cx="245" cy="357" rx="8" ry="3" fill="#e81000"/>
      <ellipse cx="204" cy="354" rx="3" ry="1.2" fill="#ffe020"/>
      <ellipse cx="200" cy="362.5" rx="12" ry="1.6" fill="#a00000"/>
      <ellipse cx="230" cy="362" rx="14" ry="1.8" fill="#f0e020"/>
      <ellipse cx="268" cy="362" rx="18" ry="2" fill="#20a0ff"/>
      <ellipse cx="270" cy="358" rx="12" ry="1.6" fill="#40e0ff"/>
      <ellipse cx="302" cy="362.5" rx="12" ry="1.8" fill="#c00000"/>
      <ellipse cx="112" cy="358" rx="8" ry="1.6" fill="#40e0ff"/>
      <ellipse cx="85" cy="356" rx="10" ry="1.6" fill="#40e0ff"/>
      <ellipse cx="152" cy="361" rx="4" ry="1.2" fill="#ffe000"/>
      <ellipse cx="189" cy="361" rx="5" ry="1.2" fill="#ffd000"/>
      <ellipse cx="214" cy="358.5" rx="4" ry="1.2" fill="#20d0ff"/>
      <ellipse cx="240" cy="358.5" rx="3" ry="1.2" fill="#20d0ff"/>
    </g>
    <polyline points="67.5,328.5 68.8,325.1 70.0,323.5 70.9,319.0 71.8,318.0 72.8,320.3 73.7,321.0 75.0,317.0 76.2,317.3 77.3,315.0 78.4,312.4 79.5,314.5 80.5,318.0 82.3,319.2 84.2,324.8 85.5,321.4 86.7,318.0 88.6,312.5 90.4,311.7 92.6,317.6 94.8,324.2 96.3,319.2 97.9,318.6 100.1,323.4 102.2,332.2 103.8,325.9 105.3,320.4 106.2,324.8 107.2,326.0 108.5,318.6 109.7,314.9 111.2,314.4 112.8,316.7 114.3,321.7 115.9,325.4 117.1,328.6 118.3,327.3 119.8,329.5 121.4,331.0 123.6,324.3 125.8,318.6 127.1,325.6 128.3,327.9 130.2,318.5 132.0,313.6 133.6,320.7 135.1,324.2 136.3,318.8 137.6,315.5 138.5,321.5 139.4,331.0 140.4,323.5 141.3,319.8 143.2,323.2 145.0,328.5 146.6,336.3 148.1,340.9 149.3,331.0 150.6,324.2 151.8,318.7 153.1,312.4 154.3,317.7 155.5,321.7 156.4,322.6 157.4,324.8 158.5,319.4 159.6,313.6 160.6,316.7 161.7,324.2 162.6,324.7 163.6,329.7 164.7,321.1 165.8,315.5 167.5,327.0 169.2,336.6 170.1,330.3 171.1,324.8 172.0,327.6 172.9,332.2 174.4,327.0 176.0,321.0 177.2,309.9 178.5,299.3 179.4,303.3 180.4,309.3 181.9,304.2 183.5,296.2 184.4,301.5 185.3,304.9 186.2,314.8 187.2,327.3 188.4,336.3 189.7,344.6 191.6,341.3 193.4,337.8 195.2,337.5 197.1,333.5 199.3,327.5 201.5,319.2 202.4,322.8 203.3,328.5 204.6,320.1 205.8,306.8 206.8,311.1 207.7,319.2 209.6,322.8 211.4,327.3 212.7,321.7 213.9,313.6 215.1,318.1 216.3,326.0 217.9,324.4 219.4,322.9 220.4,321.5 221.3,324.8 222.6,321.3 223.8,316.1 225.4,323.6 226.9,328.5 228.2,320.2 229.4,311.1 230.9,317.0 232.3,319.2 233.2,321.4 234.2,325.4 235.1,325.4 236.1,323.5 237.0,319.7 237.9,314.9 239.4,323.0 241.0,330.4 242.2,322.4 243.5,314.9 244.4,318.4 245.4,318.6 246.5,328.3 247.6,333.5 248.6,325.0 249.7,316.7 250.9,323.1 252.2,327.9 253.4,323.9 254.7,324.2 256.2,324.6 257.8,322.9 259.6,323.0 261.5,321.7 263.4,323.5 265.2,320.4 267.0,320.8 268.9,318.0 270.4,320.3 272.0,324.8 273.9,323.9 275.8,324.2 277.4,327.2 278.9,328.5 280.1,320.2 281.4,316.7 282.9,315.0 284.5,313.6 285.7,313.5 286.9,316.7 288.1,313.9 289.4,314.9 290.6,313.9 291.9,317.3 292.9,321.7 293.8,323.5 295.0,320.4 296.2,321.0 297.4,320.7 298.7,322.9 299.9,326.4 301.2,331.0 302.1,336.9 303.1,339.0 304.3,331.1 305.5,327.3 307.1,326.1 308.6,325.4 310.1,324.7 311.7,323.5" fill="none" stroke="#fff" stroke-width="0.95" stroke-linejoin="miter" stroke-miterlimit="3"/>
    <rect x="305.8" y="297.5" width="2" height="18" fill="#fff"/>
  </g>
  <g clip-path="url(#clipE2)">
    <rect x="67" y="368" width="245" height="69" fill="url(#gE2)"/>
    <rect x="67.0" y="368" width="1.5" height="69" fill="#0a20c0" opacity="0.10"/>
    <rect x="73.3" y="368" width="2.4" height="69" fill="#0a20c0" opacity="0.11"/>
    <rect x="76.8" y="368" width="2.0" height="69" fill="#0a20c0" opacity="0.18"/>
    <rect x="81.5" y="368" width="1.5" height="69" fill="#0a20c0" opacity="0.18"/>
    <rect x="87.7" y="368" width="1.5" height="69" fill="#0a20c0" opacity="0.06"/>
    <rect x="91.5" y="368" width="1.8" height="69" fill="#0a20c0" opacity="0.19"/>
    <rect x="95.1" y="368" width="2.6" height="69" fill="#0a20c0" opacity="0.20"/>
    <rect x="100.8" y="368" width="1.4" height="69" fill="#0a20c0" opacity="0.24"/>
    <rect x="104.4" y="368" width="2.6" height="69" fill="#0a20c0" opacity="0.10"/>
    <rect x="108.9" y="368" width="2.5" height="69" fill="#0a20c0" opacity="0.11"/>
    <rect x="116.3" y="368" width="2.0" height="69" fill="#0a20c0" opacity="0.09"/>
    <rect x="120.1" y="368" width="1.8" height="69" fill="#0a20c0" opacity="0.18"/>
    <rect x="126.8" y="368" width="1.3" height="69" fill="#0a20c0" opacity="0.13"/>
    <rect x="129.9" y="368" width="2.9" height="69" fill="#0a20c0" opacity="0.08"/>
    <rect x="134.1" y="368" width="1.1" height="69" fill="#0a20c0" opacity="0.13"/>
    <rect x="139.8" y="368" width="2.8" height="69" fill="#0a20c0" opacity="0.20"/>
    <rect x="147.5" y="368" width="2.9" height="69" fill="#0a20c0" opacity="0.12"/>
    <rect x="152.2" y="368" width="2.9" height="69" fill="#0a20c0" opacity="0.20"/>
    <rect x="156.2" y="368" width="2.3" height="69" fill="#0a20c0" opacity="0.13"/>
    <rect x="161.0" y="368" width="1.7" height="69" fill="#0a20c0" opacity="0.08"/>
    <rect x="163.7" y="368" width="1.6" height="69" fill="#0a20c0" opacity="0.12"/>
    <rect x="170.0" y="368" width="1.2" height="69" fill="#0a20c0" opacity="0.24"/>
    <rect x="173.1" y="368" width="1.7" height="69" fill="#0a20c0" opacity="0.21"/>
    <rect x="179.1" y="368" width="1.9" height="69" fill="#0a20c0" opacity="0.06"/>
    <rect x="183.9" y="368" width="1.7" height="69" fill="#0a20c0" opacity="0.23"/>
    <rect x="187.4" y="368" width="1.7" height="69" fill="#0a20c0" opacity="0.23"/>
    <rect x="190.2" y="368" width="1.8" height="69" fill="#0a20c0" opacity="0.21"/>
    <rect x="196.1" y="368" width="1.1" height="69" fill="#0a20c0" opacity="0.06"/>
    <rect x="198.5" y="368" width="2.8" height="69" fill="#0a20c0" opacity="0.10"/>
    <rect x="205.3" y="368" width="2.8" height="69" fill="#0a20c0" opacity="0.12"/>
    <rect x="210.2" y="368" width="2.9" height="69" fill="#0a20c0" opacity="0.17"/>
    <rect x="215.1" y="368" width="2.4" height="69" fill="#0a20c0" opacity="0.11"/>
    <rect x="219.7" y="368" width="1.0" height="69" fill="#0a20c0" opacity="0.20"/>
    <rect x="225.3" y="368" width="2.3" height="69" fill="#0a20c0" opacity="0.24"/>
    <rect x="228.7" y="368" width="1.5" height="69" fill="#0a20c0" opacity="0.15"/>
    <rect x="235.0" y="368" width="2.9" height="69" fill="#0a20c0" opacity="0.13"/>
    <rect x="239.9" y="368" width="1.9" height="69" fill="#0a20c0" opacity="0.15"/>
    <rect x="246.5" y="368" width="1.4" height="69" fill="#0a20c0" opacity="0.21"/>
    <rect x="251.8" y="368" width="2.6" height="69" fill="#0a20c0" opacity="0.20"/>
    <rect x="257.9" y="368" width="1.7" height="69" fill="#0a20c0" opacity="0.11"/>
    <rect x="262.0" y="368" width="2.6" height="69" fill="#0a20c0" opacity="0.07"/>
    <rect x="266.3" y="368" width="2.5" height="69" fill="#0a20c0" opacity="0.10"/>
    <rect x="270.1" y="368" width="1.1" height="69" fill="#0a20c0" opacity="0.16"/>
    <rect x="273.5" y="368" width="3.0" height="69" fill="#0a20c0" opacity="0.23"/>
    <rect x="281.4" y="368" width="1.5" height="69" fill="#0a20c0" opacity="0.07"/>
    <rect x="284.3" y="368" width="2.0" height="69" fill="#0a20c0" opacity="0.19"/>
    <rect x="289.1" y="368" width="1.5" height="69" fill="#0a20c0" opacity="0.13"/>
    <rect x="294.0" y="368" width="2.3" height="69" fill="#0a20c0" opacity="0.20"/>
    <rect x="300.8" y="368" width="2.3" height="69" fill="#0a20c0" opacity="0.07"/>
    <rect x="307.5" y="368" width="1.6" height="69" fill="#0a20c0" opacity="0.16"/>
    <rect x="311.5" y="368" width="2.5" height="69" fill="#0a20c0" opacity="0.09"/>
    <g filter="url(#b2)">
      <ellipse cx="130" cy="434" rx="25" ry="3" fill="#2080ff" opacity="0.8"/>
      <ellipse cx="190" cy="435" rx="30" ry="3" fill="#40c0ff" opacity="0.9"/>
      <ellipse cx="250" cy="434" rx="20" ry="3" fill="#2070ff" opacity="0.7"/>
      <ellipse cx="290" cy="435" rx="15" ry="2.5" fill="#40b0ff" opacity="0.8"/>
      <ellipse cx="95" cy="434" rx="12" ry="2.5" fill="#1060ff" opacity="0.7"/>
      <ellipse cx="160" cy="428" rx="12" ry="2" fill="#1050f0" opacity="0.6"/>
      <ellipse cx="230" cy="428" rx="10" ry="2" fill="#1050f0" opacity="0.6"/>
    </g>
    <polyline points="67.5,402.2 69.7,402.0 71.9,402.2 74.1,400.3 76.3,400.7 78.5,400.5 80.7,402.2 82.9,402.5 85.1,399.9 87.3,400.0 89.5,400.1 91.7,400.1 93.9,401.0 96.1,401.3 98.3,400.2 100.5,399.4 102.7,400.7 104.9,400.6 107.1,401.2 109.3,402.4 111.5,401.6 113.7,401.0 115.9,401.4 118.1,401.6 120.3,399.6 122.5,402.3 124.7,401.9 126.9,402.2 129.1,402.0 131.3,400.7 133.5,400.7 135.7,399.7 137.9,401.4 140.1,399.6 142.3,399.6 144.5,400.1 146.7,399.9 148.9,400.5 151.1,399.6 153.3,399.4 155.5,399.9 157.7,399.7 159.9,400.6 162.1,399.5 164.3,402.2 166.5,401.4 168.7,399.9 170.9,400.2 173.1,400.5 175.3,400.6 177.5,399.8 179.7,401.1 181.9,400.3 184.1,397.4 186.3,397.7 188.5,397.7 190.7,399.0 192.9,400.5 195.1,400.2 197.3,402.1 199.5,399.9 201.7,399.5 203.9,402.4 206.1,401.1 208.3,399.9 210.5,401.1 212.7,399.5 214.9,401.1 217.1,402.5 219.3,402.2 221.5,401.6 223.7,400.2 225.9,400.6 228.1,399.9 230.3,401.9 232.5,401.1 234.7,401.9 236.9,400.5 239.1,400.1 241.3,402.0 243.5,402.6 245.7,402.1 247.9,402.0 250.1,402.0 252.3,401.8 254.5,400.1 256.7,401.1 258.9,400.5 261.1,399.5 263.3,399.5 265.5,400.3 267.7,400.2 269.9,401.6 272.1,402.5 274.3,400.8 276.5,402.4 278.7,402.6 280.9,402.5 283.1,400.6 285.3,400.1 287.5,400.1 289.7,400.0 291.9,400.1 294.1,401.4 296.3,402.3 298.5,402.1 300.7,402.9 302.9,403.5 305.1,404.0 307.3,398.1 309.5,397.3 311.7,395.5" fill="none" stroke="#fff" stroke-width="0.8" stroke-linejoin="round"/>
  </g>
  <g font-size="16.5" text-anchor="end">
    <text x="64.6" y="302">50</text>
    <text x="64.6" y="329.5">30</text>
    <text x="64.6" y="356.5">10</text>
    <text x="64.6" y="377.2">50</text>
    <text x="64.6" y="404.2">30</text>
    <text x="64.6" y="431.2">10</text>
  </g>
  <g font-size="16.5" text-anchor="middle">
    <text x="68.4" y="452">0</text><text x="92.5" y="452">1</text><text x="116.6" y="452">2</text><text x="140.8" y="452">3</text><text x="164.9" y="452">4</text><text x="189" y="452">5</text><text x="213.1" y="452">6</text><text x="237.2" y="452">7</text><text x="261.4" y="452">8</text><text x="285.5" y="452">9</text><text x="309.6" y="452">10</text>
  </g>
  <text x="147.4" y="475.8" font-size="19.9">Time (s)</text>
  <text transform="translate(30.9,437.3) rotate(-90)" font-size="22">Frequency (Hz)</text>
</g>


<!-- ================= PANEL F ================= -->
<g id="panelF">
  <text x="310.6" y="281.9" font-size="38.5">F</text>
  <rect x="490" y="270" width="71" height="13.4" fill="url(#cbF)"/>
  <text x="491.5" y="281.5" font-size="13" fill="#fff">1</text>
  <text x="521.5" y="281.5" font-size="15" font-style="italic">r</text>
  <text x="551.5" y="281.5" font-size="13" fill="#fff">0</text>
  <!-- left heatmap -->
  <g clip-path="url(#clipF1)">
    <g transform="translate(376,294.9) scale(1.0129,1.012)">
      <rect x="0" y="0" width="140" height="140" fill="#7ee4ee"/>
      <g filter="url(#b2)">
        <rect x="-10" y="-10" width="27" height="160" fill="#3050d8"/>
        <rect x="-10" y="-10" width="15" height="160" fill="#1c2a8c"/>
        <rect x="7" y="-10" width="2.5" height="150" fill="#5aa8f0"/>
        <rect x="9.5" y="-10" width="6" height="105" fill="#2034b8"/>
        <rect x="8" y="99" width="4" height="20" fill="#3050e0"/>
        <rect x="16" y="-10" width="5" height="140" fill="#60b0f2"/>
        <polygon points="40,0 65,0 66,21 64,40 58,50 50,53 46,49 42,42 40,43" fill="#a4f0c4"/>
        <polygon points="88,84 99,77 115,75 140,76 140,101 100,101 98,97 89,92" fill="#a4f0c4"/>
        <polygon points="25,70 37,70 35,84 29,95 24,92 22,99 20,90" fill="#c8f0a0"/>
        <rect x="40" y="106" width="110" height="16" fill="#78e2f0"/>
        <rect x="46" y="123" width="110" height="9.5" fill="#2848d0"/>
        <rect x="52" y="125.5" width="100" height="4" fill="#1a2aa0"/>
        <rect x="28" y="131" width="14" height="4.5" fill="#2848d0"/>
        <rect x="-10" y="134" width="160" height="3.5" fill="#60c0f0"/>
        <rect x="-10" y="137.5" width="160" height="5" fill="#1c2c9c"/>
      </g>
      <!-- yellow regions -->
      <g fill="#f2e266" filter="url(#b1)">
        <polygon points="65.1,0 65.9,21.4 63.7,40.3 57.8,50.5 50.5,53.5 46.2,49 41.8,41.8 39.6,43.3 38.9,70 37,69.4 35.5,84.4 29.5,94.9 24.2,91.9 22,99.4 19,111.4 16,118.9 11.5,124.9 5.5,135.4 2,138.6 50,100 106.7,0"/>
        <polygon points="140.5,30 140.5,76.2 129.5,76.9 114.5,75.4 99.5,76.9 88.2,84.4 89,91.9 98,97.1 99.5,100.9 69.5,103.9 52,105.4 46,111.4 49,117.4 37,120.4 19,126.4 13,129.4 5.5,135.4 2,138.6 60,100"/>
        <polygon points="37.4,0 37.5,15 38.5,28 41,35 43.5,30 44.7,15 44.7,0"/>
        <polygon points="107,100.9 114.5,97.1 126.5,95.6 140.5,97.1 140.5,105.4 126.5,105.4 113,103.9"/>
      </g>
      <g filter="url(#b3)">
        <polygon points="2,138.6 5.5,135.4 19,118.9 31,102.4 44.5,82.9 56.5,69.4 69.5,54 78.2,43.7 87,29.2 95.7,14.6 106.7,1.5 107.5,0 141,0 140.5,35 127.8,45.2 113.2,55.4 91.4,70 69.5,87.4 59.5,96.4 44.5,106.9 29.5,118.9 14.5,130.9 5.5,135.4" fill="none" stroke="#f4a050" stroke-width="24" stroke-linejoin="round"/>
      </g>
      <g filter="url(#b2)">
        <polygon points="2,138.6 5.5,135.4 19,118.9 31,102.4 44.5,82.9 56.5,69.4 69.5,54 78.2,43.7 87,29.2 95.7,14.6 106.7,1.5 107.5,0 141,0 140.5,35 127.8,45.2 113.2,55.4 91.4,70 69.5,87.4 59.5,96.4 44.5,106.9 29.5,118.9 14.5,130.9 5.5,135.4" fill="none" stroke="#e8603e" stroke-width="11" stroke-linejoin="round"/>
      </g>
      <polygon points="2,138.6 5.5,135.4 19,118.9 31,102.4 44.5,82.9 56.5,69.4 69.5,54 78.2,43.7 87,29.2 95.7,14.6 106.7,1.5 107.5,0 141,0 140.5,35 127.8,45.2 113.2,55.4 91.4,70 69.5,87.4 59.5,96.4 44.5,106.9 29.5,118.9 14.5,130.9 5.5,135.4" fill="#8c4637"/>
      <g fill="none" stroke="#33302c" stroke-width="0.65" opacity="0.85">
        <polyline points="2,138.6 5.5,135.4 19,118.9 31,102.4 44.5,82.9 56.5,69.4 69.5,54 78.2,43.7 87,29.2 95.7,14.6 106.7,1.5"/>
        <polyline points="5.5,135.4 14.5,130.9 29.5,118.9 44.5,106.9 59.5,96.4 69.5,87.4 91.4,70 113.2,55.4 127.8,45.2 140.5,35"/>
        <polyline points="65.1,0 65.9,21.4 63.7,40.3 57.8,50.5 50.5,53.5 46.2,49 41.8,41.8 39.6,43.3 38.9,70 37,69.4 35.5,84.4 29.5,94.9 24.2,91.9 22,99.4 19,111.4 16,118.9 11.5,124.9"/>
        <polyline points="140.5,76.2 129.5,76.9 114.5,75.4 99.5,76.9 88.2,84.4 89,91.9 98,97.1 99.5,100.9 69.5,103.9 52,105.4 46,111.4 49,117.4 37,120.4 19,126.4 13,129.4"/>
        <polyline points="37.4,0 37.5,15 38.5,28 41,35 43.5,30 44.7,15 44.7,0"/>
        <polygon points="107,100.9 114.5,97.1 126.5,95.6 140.5,97.1 140.5,105.4 126.5,105.4 113,103.9"/>
        <polyline points="14.5,0 14.5,30 14,38 15.5,39 16,60"/>
        <polyline points="140.5,122 110,121.5 78,122.5 70,124 80,127 110,127.5 140.5,126"/>
      </g>
    </g>
  </g>
  <!-- right heatmap -->
  <g clip-path="url(#clipF2)">
    <g transform="translate(533,292.1) scale(0.9945,1.0049)">
      <rect x="0" y="0" width="146" height="144" fill="#2c48d8"/>
      <g filter="url(#b3)">
        <rect x="-10" y="-10" width="45" height="60" fill="#30339c"/>
        <rect x="112" y="112" width="45" height="40" fill="#30349e"/>
      </g>
      <g filter="url(#b3)">
        <polygon points="78,0 73,2.2 63,3 49.5,7.5 40.5,15 27,28.5 30,39 33,49.5 30,55.5 18,63 13.5,72 9,90 7,110 6,137 40,138 73,138 82,129 88,117 94,111.7 103,114 113.5,118.5 122.5,112.5 133,102 139,87 140.5,72 140,55 146,42 146,0" fill="#56b6f4"/>
      </g>
      <g filter="url(#b3)">
        <polygon points="106,0 97,10.5 88,19.5 73,24 66,21.7 57,27 48,30 46.5,36 52.5,42 54,49.5 45,55.5 30,63 22.5,72 15,92 11,115 10,134 73,134 78,126 84,115 90,106 96,100 104,104 112,108 120,104 128,96 134,84 136,70 140,56 146,40 146,0" fill="#8aecf4"/>
      </g>
      <g filter="url(#b3)">
        <polygon points="4.5,138 7.5,124 10,112 14,100 20,90 37,81 50,74 62,68 78.7,57 93.7,42 103,27 110,18 122.5,0 146,0 146,19 134,30 117,45.3 103.7,57 87,73.7 75.3,85.3 65.3,100.3 58.7,117 49.5,123 37.5,130.5 22.5,135 9,138" fill="#b4f0a4" stroke="#b4f0a4" stroke-width="44" stroke-linejoin="round"/>
      </g>
      <g filter="url(#b2)">
        <polygon points="4.5,138 7.5,124 10,112 14,100 20,90 37,81 50,74 62,68 78.7,57 93.7,42 103,27 110,18 122.5,0 146,0 146,19 134,30 117,45.3 103.7,57 87,73.7 75.3,85.3 65.3,100.3 58.7,117 49.5,123 37.5,130.5 22.5,135 9,138" fill="#f2e060" stroke="#f2e060" stroke-width="30" stroke-linejoin="round"/>
      </g>
      <g filter="url(#b2)">
        <polygon points="4.5,138 7.5,124 10,112 14,100 20,90 37,81 50,74 62,68 78.7,57 93.7,42 103,27 110,18 122.5,0 146,0 146,19 134,30 117,45.3 103.7,57 87,73.7 75.3,85.3 65.3,100.3 58.7,117 49.5,123 37.5,130.5 22.5,135 9,138" fill="#f09048" stroke="#f09048" stroke-width="19" stroke-linejoin="round"/>
      </g>
      <g filter="url(#b1)">
        <polygon points="4.5,138 7.5,124 10,112 14,100 20,90 37,81 50,74 62,68 78.7,57 93.7,42 103,27 110,18 122.5,0 146,0 146,19 134,30 117,45.3 103.7,57 87,73.7 75.3,85.3 65.3,100.3 58.7,117 49.5,123 37.5,130.5 22.5,135 9,138" fill="#e2553e" stroke="#e2553e" stroke-width="10" stroke-linejoin="round"/>
      </g>
      <polygon points="4.5,138 7.5,124 10,112 14,100 20,90 37,81 50,74 62,68 78.7,57 93.7,42 103,27 110,18 122.5,0 146,0 146,19 134,30 117,45.3 103.7,57 87,73.7 75.3,85.3 65.3,100.3 58.7,117 49.5,123 37.5,130.5 22.5,135 9,138" fill="#8c4637"/>
      <g filter="url(#b1)">
        <rect x="-3" y="-3" width="9" height="150" fill="#2a2e94"/>
        <rect x="2.5" y="60" width="2.5" height="78" fill="#40a0f0" opacity="0.7"/>
        <rect x="-3" y="138" width="152" height="9" fill="#2c34a8"/>
        <rect x="10" y="139.5" width="40" height="2" fill="#40b0f0" opacity="0.7"/>
      </g>
      <g fill="none" stroke="#33302c" stroke-width="0.65" opacity="0.85">
        <polyline points="4.5,138 7.5,124 10,112 14,100 20,90 37,81 50,74 62,68 78.7,57 93.7,42 103,27 110,18 122.5,0"/>
        <polyline points="146,19 134,30 117,45.3 103.7,57 87,73.7 75.3,85.3 65.3,100.3 58.7,117 49.5,123 37.5,130.5 22.5,135 9,138"/>
        <polyline points="10,138 20,120 35,105 55,90 75,75 95,58 115,38 132,18 146,5"/>
        <polyline points="16,138 32,126 48,110 68,92 90,72 110,50 128,32 146,20"/>
        <polyline points="2,130 4,116 8,100 16,86 34,74 52,64 70,52 88,34 100,18 116,0"/>
        <polyline points="146,30 130,43.5 115,58.5 104.5,72 92,90 82,105 72,118 58,128 40,136 28,140"/>
        <polyline points="73,40.5 66,45 57,57 45,66 36,72 24,80 14,95 8,115 5,138"/>
        <polyline points="106,0 97,10.5 88,19.5 73,24 66,21.7 57,27 48,30 46.5,36 52.5,42 54,49.5 45,55.5 30,63 22.5,72 15,92 11,115 9,134"/>
        <polyline points="78,0 73,2.2 63,3 49.5,7.5 40.5,15 27,28.5 30,39 33,49.5 30,55.5 18,63 13.5,72 9,90 7,110 6,137"/>
        <polyline points="121,72 122.5,79.5 116.5,87 110.5,97.5 104.5,94.5 97,90 91,96 88,106.5 82,117 77.5,129 73,135 60,138"/>
        <polyline points="140.5,72 139,87 133,102 122.5,112.5 113.5,118.5 103,114 94,111.7 88,117 82,129 73,138"/>
        <polyline points="34,0 24,6 16,15 15,25 10,18 9,37 12,50 15,60 9,64 6,70"/>
        <polyline points="146,80 140,96 130,112 118,120 110,124 100,128"/>
      </g>
    </g>
  </g>
  <g font-size="17.5" text-anchor="end">
    <text x="371.6" y="302.7">100</text>
    <text x="371.6" y="329.9">80</text>
    <text x="371.6" y="357.1">60</text>
    <text x="371.6" y="384.3">40</text>
    <text x="371.6" y="411.5">20</text>
  </g>
  <g font-size="18" text-anchor="middle">
    <text x="397.2" y="452.7">20</text><text x="424.9" y="452.7">40</text><text x="453" y="452.7">60</text><text x="481" y="452.7">80</text><text x="507.7" y="452.7">100</text>
    <text x="547.3" y="454.6">20</text><text x="574.8" y="454.6">40</text><text x="602.4" y="454.6">60</text><text x="630.8" y="454.6">80</text><text x="658.7" y="454.6">100</text>
  </g>
  <text x="460" y="472.8" font-size="20">Frequency (Hz)</text>
  <text transform="translate(343.2,428.6) rotate(-90)" font-size="22.3">Frequency (Hz)</text>
</g>

<!-- ================= PROBE ROW + LEGEND ================= -->
<g id="probe">
  <rect x="100" y="208" width="52.6" height="12.2" fill="none" stroke="#222" stroke-width="0.8" stroke-dasharray="2.5,1.8"/>
  <rect x="100.5" y="212.8" width="48" height="3.7" fill="#e8e8b8" stroke="#707068" stroke-width="0.8"/>
  <path d="M148,214 H400" stroke="#606860" stroke-width="2.2"/>
  <path d="M148,214 H400" stroke="#c8d0c8" stroke-width="0.8"/>
  <circle cx="154.3" cy="214.9" r="5" fill="none" stroke="#222" stroke-width="0.8"/>
  <!-- connector -->
  <path d="M395,212.2 C403,211.5 408,206 411,201.5 L413.9,199.4 H446.6 V227.1 H413.9 L411,225 C408,220.5 403,215.5 395,214.6 Z" fill="#e6d894" stroke="#4e4e46" stroke-width="1.3"/>
  <g fill="#c9a24e">
    <rect x="417.4" y="200.8" width="8.2" height="7.6"/>
    <rect x="434.9" y="200.8" width="8.8" height="7.6"/>
    <rect x="417.4" y="219" width="8.2" height="7"/>
    <rect x="434.9" y="219" width="8.8" height="7"/>
  </g>
  <line x1="427.3" y1="200" x2="427.3" y2="226.5" stroke="#6a6450" stroke-width="0.9"/>
  <rect x="437.2" y="224.6" width="8.4" height="2.6" fill="#111"/>
  <!-- gold strip -->
  <rect x="171.2" y="219" width="223.6" height="18" fill="url(#gstrip)"/>
  <rect x="171.2" y="219" width="223.6" height="3" fill="#7a4c14" opacity="0.35"/>
  <rect x="177.4" y="224.8" width="161" height="6.9" rx="3.4" fill="url(#gbar)"/>
  <circle cx="180.6" cy="228.2" r="1.7" fill="#7a4a18"/>
  <rect x="376.5" y="224.5" width="10.5" height="6" fill="#f0c040"/>
  <rect x="386" y="226.5" width="6" height="2" fill="#f0c040"/>
  <rect x="385" y="233" width="8.7" height="3" fill="#fff"/>
  <!-- legend -->
  <rect x="22" y="243.8" width="5" height="6.3" fill="#4aa5e6"/>
  <text x="30" y="250.6" font-size="14.65" fill="#222">PEDOT:PSS/PEI</text>
  <rect x="146.3" y="243.8" width="4.5" height="6.3" fill="#eeba46"/>
  <text x="153.2" y="251.2" font-size="15" fill="#222">Au</text>
  <rect x="183" y="243.8" width="4.8" height="6.3" fill="#2e3292"/>
  <text x="191.2" y="250.6" font-size="14.7" fill="#222">PEDOT:PSS</text>
  <rect x="276" y="243.8" width="4.8" height="6.3" fill="#bdbdbd"/>
  <text x="285.5" y="250.6" font-size="15" fill="#222">Pa-C</text>
  <line x1="18.4" y1="259.4" x2="36.8" y2="259.4" stroke="#aaa" stroke-width="0.8"/>
</g>

</svg>
</body></html>
